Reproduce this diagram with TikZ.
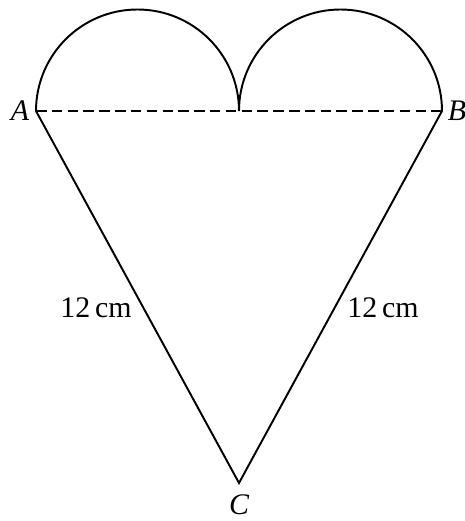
\documentclass[tikz,border=0pt]{standalone}
\usepackage{fontspec}
\setmainfont{Liberation Serif}
\usetikzlibrary{positioning}

\begin{document}
\begin{tikzpicture}[x=0.02cm, y=0.02cm, line width=1.1pt]

\tikzstyle{lbl} = [inner sep=0pt, font=\fontsize{17}{20}\selectfont]

\useasboundingbox (0,0) rectangle (465,521);

% Points
\coordinate (A) at (36,410);
\coordinate (B) at (442,410);
\coordinate (M) at (239,410);
\coordinate (C) at (239,38);

% Labels
\node[lbl] (la) at (20,410) {\itshape A};
\node[lbl] (lb) at (457,410) {\itshape B};
\node[lbl] (lc) at (239,16) {\itshape C};
\node[lbl] (lac) at (96,213) {12\,cm};
\node[lbl] (lbc) at (383,213) {12\,cm};

% Connections
\draw[dashed, line width=0.9pt, dash pattern=on 6pt off 3pt] (A) -- (B);
\draw[line join=miter] (M) arc (0:180:101.5) -- (C) -- (B) arc (0:180:101.5);

\end{tikzpicture}
\end{document}
